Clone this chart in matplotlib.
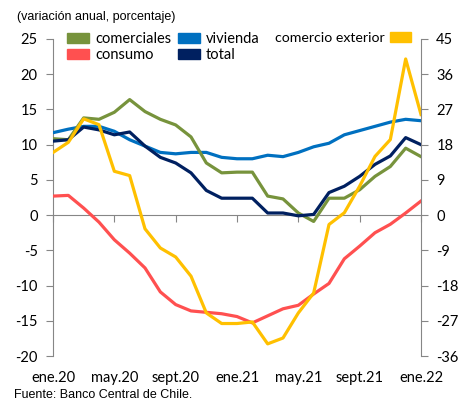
import matplotlib.pyplot as plt
from matplotlib.patches import Patch

# monthly data, ene.20 .. ene.22
months = ["ene.20", "feb.20", "mar.20", "abr.20", "may.20", "jun.20", "jul.20",
          "ago.20", "sept.20", "oct.20", "nov.20", "dic.20", "ene.21", "feb.21",
          "mar.21", "abr.21", "may.21", "jun.21", "jul.21", "ago.21", "sept.21",
          "oct.21", "nov.21", "dic.21", "ene.22"]
comerciales = [10.85, 10.7, 13.8, 13.6, 14.6, 16.4, 14.7, 13.6, 12.8, 11.1, 7.4, 6.0, 6.1,
               6.1, 2.7, 2.3, 0.3, -0.9, 2.4, 2.4, 3.6, 5.5, 6.9, 9.5, 8.3]
vivienda = [11.7, 12.2, 12.6, 12.6, 11.9, 10.7, 9.8, 8.9, 8.7, 8.9, 8.9, 8.2, 8.0,
            8.0, 8.5, 8.3, 8.9, 9.7, 10.2, 11.4, 12.0, 12.6, 13.2, 13.6, 13.4]
consumo = [2.7, 2.8, 1.0, -1.0, -3.5, -5.4, -7.5, -10.9, -12.7, -13.6, -13.8, -14.0, -14.4,
           -15.3, -14.3, -13.3, -12.8, -11.2, -9.7, -6.2, -4.4, -2.5, -1.3, 0.3, 2.0]
total = [10.5, 10.7, 12.5, 12.1, 11.4, 11.8, 9.8, 8.2, 7.4, 6.0, 3.5, 2.4, 2.4,
         2.4, 0.3, 0.3, -0.1, 0.1, 3.2, 4.1, 5.5, 7.2, 8.4, 11.0, 10.0]
# right axis
comercio_exterior = [16.0, 18.6, 24.6, 23.1, 11.2, 10.1, -3.5, -8.4, -10.7, -15.6, -25.0,
                     -27.7, -27.7, -27.3, -32.9, -31.4, -25.0, -19.9, -2.4, 0.6, 7.4,
                     15.0, 19.3, 39.9, 25.7]

tick_idx = [0, 4, 8, 12, 16, 20, 24]
left_ticks = [25, 20, 15, 10, 5, 0, -5, -10, -15, -20]
right_ticks = [45, 36, 27, 18, 9, 0, -9, -18, -27, -36]

c_green = "#77933C"
c_blue = "#0070C0"
c_red = "#FF5050"
c_navy = "#002060"
c_yellow = "#FFC000"
c_axis = "#868686"

plt.rcParams["font.family"] = ["Lato", "DejaVu Sans"]

fig = plt.figure(figsize=(4.66, 4.03), dpi=100)
ax = fig.add_axes([53 / 466, 47 / 403, 368 / 466, 317 / 403])
ax2 = ax.twinx()

x = list(range(len(months)))
lw = 2.3
ax.plot(x, vivienda, color=c_blue, lw=lw, zorder=3)
ax.plot(x, comerciales, color=c_green, lw=lw, zorder=3)
ax.plot(x, total, color=c_navy, lw=lw, zorder=4)
ax.plot(x, consumo, color=c_red, lw=lw, zorder=3)
ax2.plot(x, comercio_exterior, color=c_yellow, lw=lw)

ax.set_xlim(0, 24)
ax.set_ylim(-20, 25)
ax2.set_ylim(-36, 45)

for a in (ax, ax2):
    for s in a.spines.values():
        s.set_visible(False)
    a.patch.set_visible(False)

ax.spines["left"].set_visible(True)
ax.spines["left"].set_color(c_axis)
ax.spines["bottom"].set_visible(True)
ax.spines["bottom"].set_color(c_axis)
ax.spines["bottom"].set_position(("data", 0))
ax2.spines["right"].set_visible(True)
ax2.spines["right"].set_color(c_axis)

ax.set_yticks(left_ticks)
ax.set_yticklabels([str(v) for v in left_ticks])
ax2.set_yticks(right_ticks)
ax2.set_yticklabels([str(v) for v in right_ticks])
ax.tick_params(axis="y", direction="out", length=5, color=c_axis, labelsize=10.5, pad=6)
ax2.tick_params(axis="y", direction="out", length=5, color=c_axis, labelsize=10.5, pad=6)

ax.set_xticks(tick_idx)
ax.tick_params(axis="x", direction="out", length=5, color=c_axis, labelbottom=False)

sec = ax.secondary_xaxis(0.0)
sec.set_xticks(tick_idx)
sec.set_xticklabels([months[i] for i in tick_idx])
sec.spines["bottom"].set_visible(False)
sec.tick_params(axis="x", length=0, labelsize=10.5, pad=11)

# legends (one per axes)
h_left = [Patch(color=c_green, label="comerciales"), Patch(color=c_red, label="consumo"),
          Patch(color=c_blue, label="vivienda"), Patch(color=c_navy, label="total")]
ax.legend(handles=h_left, ncol=2, loc="upper left", frameon=False,
          bbox_to_anchor=(57 / 466, 1 - 22 / 403), bbox_transform=fig.transFigure,
          fontsize=10.5, handlelength=1.5, handleheight=0.7, handletextpad=0.4,
          columnspacing=0.5, labelspacing=0.15, borderpad=0.2)
ax2.legend(handles=[Patch(color=c_yellow, label="comercio exterior")], loc="upper right",
           frameon=False, markerfirst=False,
           bbox_to_anchor=(421 / 466, 1 - 22 / 403), bbox_transform=fig.transFigure,
           fontsize=10.2, handlelength=1.5, handleheight=0.7, handletextpad=0.4, borderpad=0.2)

fig.text(17 / 466, 1 - 17 / 403, "(variación anual, porcentaje)", fontsize=9,
         family="Liberation Sans", va="center", ha="left")
fig.text(14 / 466, 1 - 395 / 403, "Fuente: Banco Central de Chile.", fontsize=9,
         family="Liberation Sans", va="center", ha="left")

fig.savefig("out.png", dpi=100)
